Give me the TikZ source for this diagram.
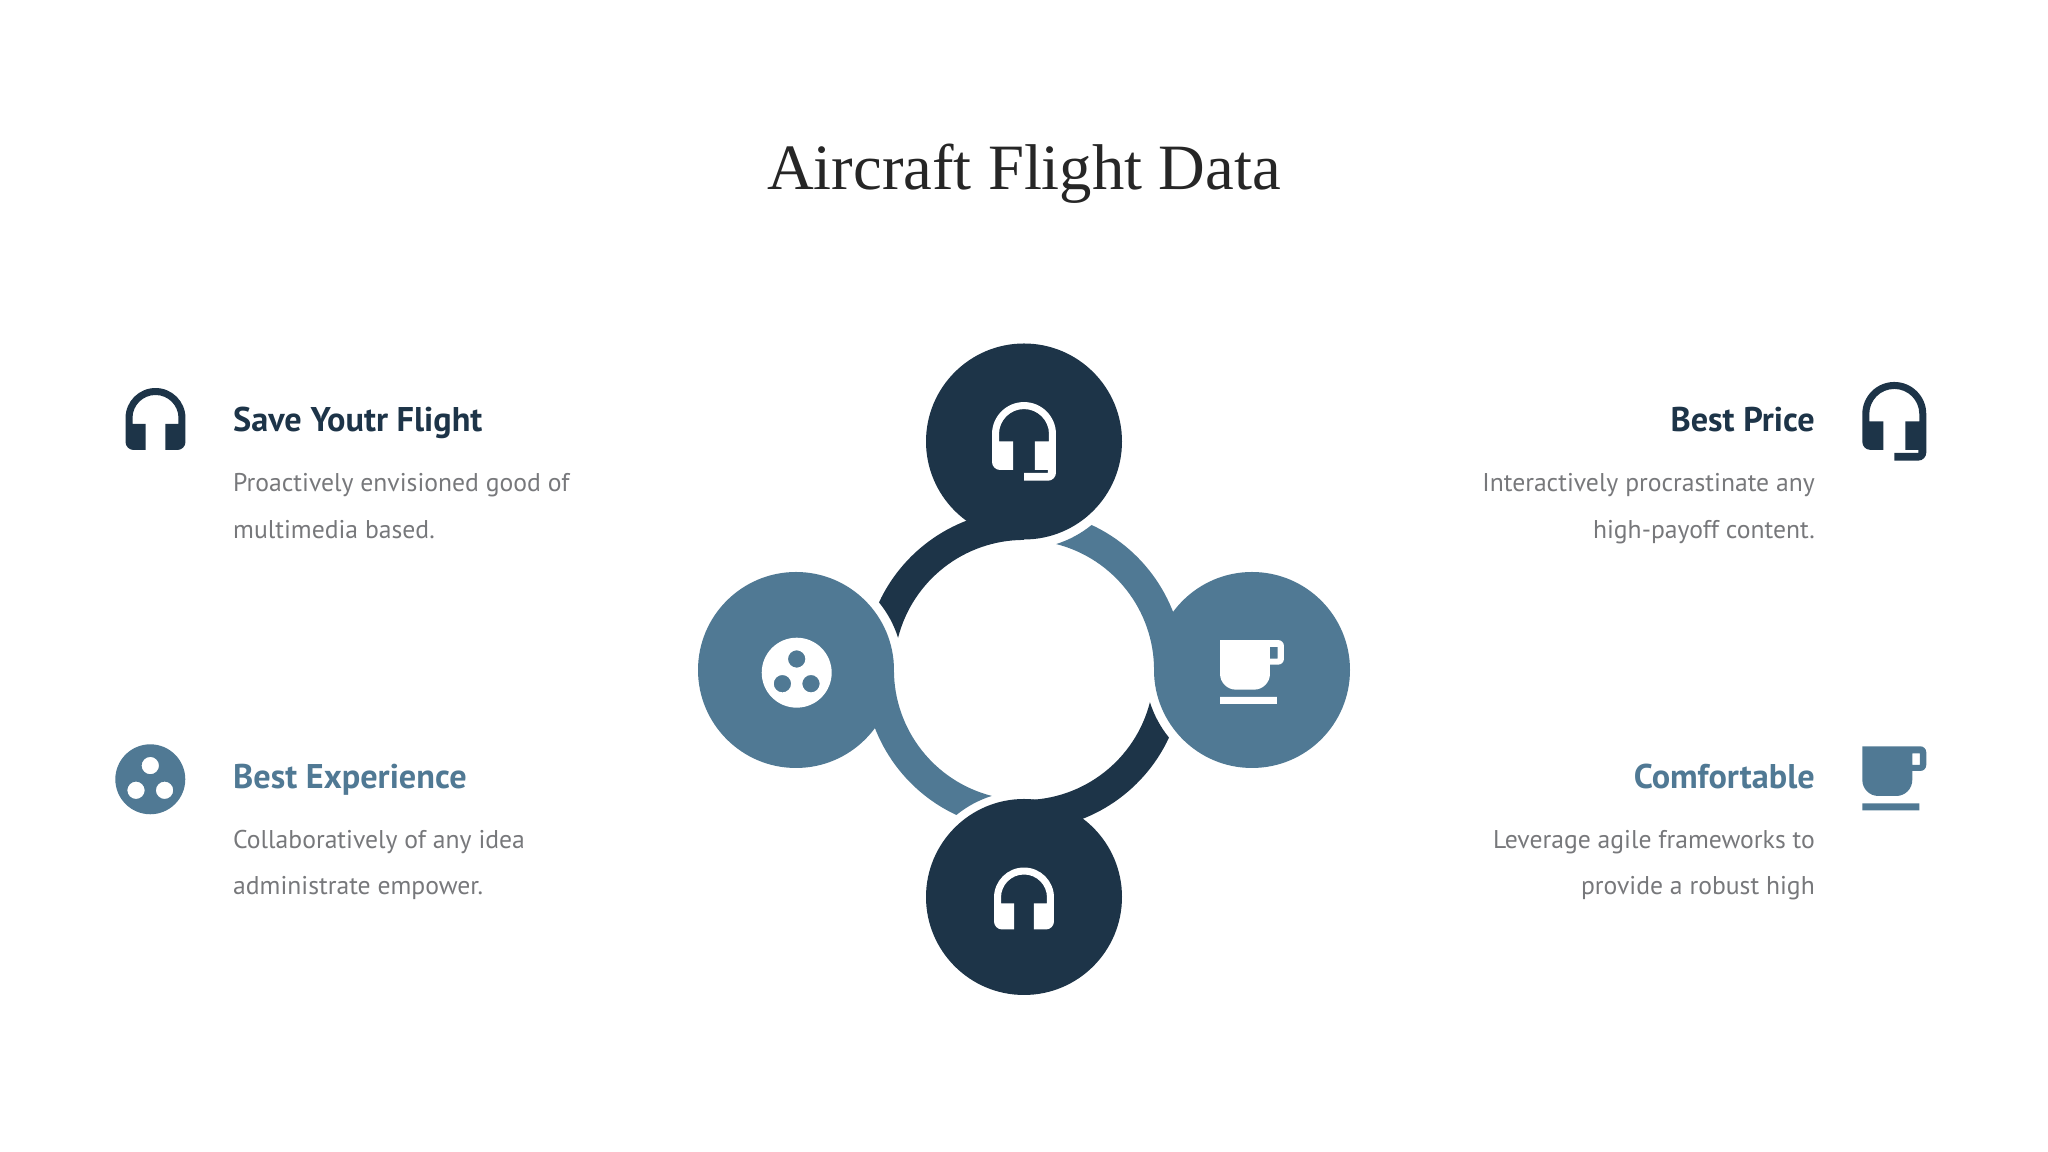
\documentclass[tikz,border=0pt]{standalone}
\usepackage{fontspec}
\setmainfont{PT Sans}
\newfontfamily\titlefont{Liberation Serif}
\usetikzlibrary{positioning}
\definecolor{navy}{HTML}{1D3448}
\definecolor{steel}{HTML}{507994}
\definecolor{ink}{HTML}{262626}
\definecolor{slate}{HTML}{77787B}
% one quarter of the ring, ending on the halo of the next hub
\newcommand{\RingArc}[3]{
    \fill[#3] (#1) ++(#2:1.6) arc[start angle=#2, delta angle=65, radius=1.6]
        arc[start angle={#2-50.84}, end angle={#2-72.5}, radius=1.07]
        arc[start angle={#2+75.67}, delta angle=-75.67, radius=1.3] -- cycle;
}
\tikzset{
    hub/.style={circle, minimum size=1.96cm, inner sep=0pt},
    head/.style={inner sep=0pt, font=\fontsize{9.75}{11}\selectfont\bfseries},
    blurb/.style={inner sep=0pt, text=slate, font=\fontsize{7.3}{13.26}\selectfont},
    phones/.pic={
    \fill[#1, scale=0.01] (-10,-31) -- (-22,-31) arc[start angle=270, end angle=180, radius=8]
        -- (-30,1) arc[start angle=180, end angle=0, radius=30]
        -- (30,-23) arc[start angle=0, end angle=-90, radius=8]
        -- (10,-31) -- (10,-5) -- (23,-5) -- (23,1)
        arc[start angle=0, end angle=180, radius=23]
        -- (-23,-5) -- (-10,-5) -- cycle;
    },
    headset/.pic={
    \fill[#1, scale=0.01] (-11,-28.6) -- (-24,-28.6) arc[start angle=270, end angle=180, radius=8]
        -- (-32,7.35) arc[start angle=180, end angle=0, radius=32]
        -- (32,-31.35) arc[start angle=0, end angle=-90, radius=8]
        -- (0,-39.35) -- (0,-31.6) -- (24,-31.6) -- (24,-28.6) -- (11,-28.6)
        -- (11,0) -- (25,0) -- (25,7.35)
        arc[start angle=0, end angle=180, radius=25]
        -- (-25,0) -- (-11,0) -- cycle;
    },
    mug/.pic={
    \fill[#1, scale=0.01, even odd rule] (-32,32) -- (26,32) arc[start angle=90, end angle=0, radius=6]
        -- (32,13.3) arc[start angle=0, end angle=-90, radius=6]
        -- (18,7.3) -- (18,-1.7) arc[start angle=0, end angle=-90, radius=16]
        -- (-16,-17.7) arc[start angle=270, end angle=180, radius=16] -- cycle
        (18,25) rectangle (25.7,13.3)
        (-32,-25) rectangle (25,-32);
    },
    dots/.pic={
    \fill[#1, scale=0.01, even odd rule] (0,0) circle[radius=35]
        (0,13.7) circle[radius=8.7] (-14.3,-11) circle[radius=8.7] (14.3,-11) circle[radius=8.7];
    },
}
\begin{document}
\begin{tikzpicture}
    \useasboundingbox (0,0) rectangle (20.48,11.52);

    \node[text=ink, inner sep=0pt, anchor=base, font=\titlefont\fontsize{18.4}{20}\selectfont] (title) at (10.24,9.62) {Aircraft Flight Data};

    \coordinate (ring) at (10.24,4.82);
    \RingArc{ring}{90}{navy}
    \RingArc{ring}{180}{steel}
    \RingArc{ring}{270}{navy}
    \RingArc{ring}{0}{steel}

    \node[hub, fill=navy] (top) at (10.24,7.105) {};
    \node[hub, fill=steel] (left) at (7.96,4.82) {};
    \node[hub, fill=navy] (bottom) at (10.24,2.55) {};
    \node[hub, fill=steel] (right) at (12.52,4.82) {};

    \pic at (10.24,7.106) {headset=white};
    \pic at (7.967,4.793) {dots=white};
    \pic at (10.24,2.535) {phones=white};
    \pic at (12.52,4.80) {mug=white};

    \node[head, text=navy, anchor=base west] (save) at (2.325,7.203) {Save Youtr Flight};
    \node[blurb, align=left, below=0.41cm of save.base west, anchor=north west] (savetext) {Proactively envisioned good of\\multimedia based.};
    \node[head, text=steel, anchor=base west] (exp) at (2.325,3.637) {Best Experience};
    \node[blurb, align=left, below=0.41cm of exp.base west, anchor=north west] (exptext) {Collaboratively of any idea\\administrate empower.};

    \node[head, text=navy, anchor=base east] (price) at (18.155,7.203) {Best Price};
    \node[blurb, align=right, below=0.41cm of price.base east, anchor=north east] (pricetext) {Interactively procrastinate any\\high-payoff content.};
    \node[head, text=steel, anchor=base east] (comfort) at (18.155,3.637) {Comfortable};
    \node[blurb, align=right, below=0.41cm of comfort.base east, anchor=north east] (comforttext) {Leverage agile frameworks to\\provide a robust high};

    \pic at (1.555,7.33) {phones=navy};
    \pic at (18.943,7.307) {headset=navy};
    \pic at (1.503,3.727) {dots=steel};
    \pic at (18.943,3.737) {mug=steel};
\end{tikzpicture}
\end{document}
